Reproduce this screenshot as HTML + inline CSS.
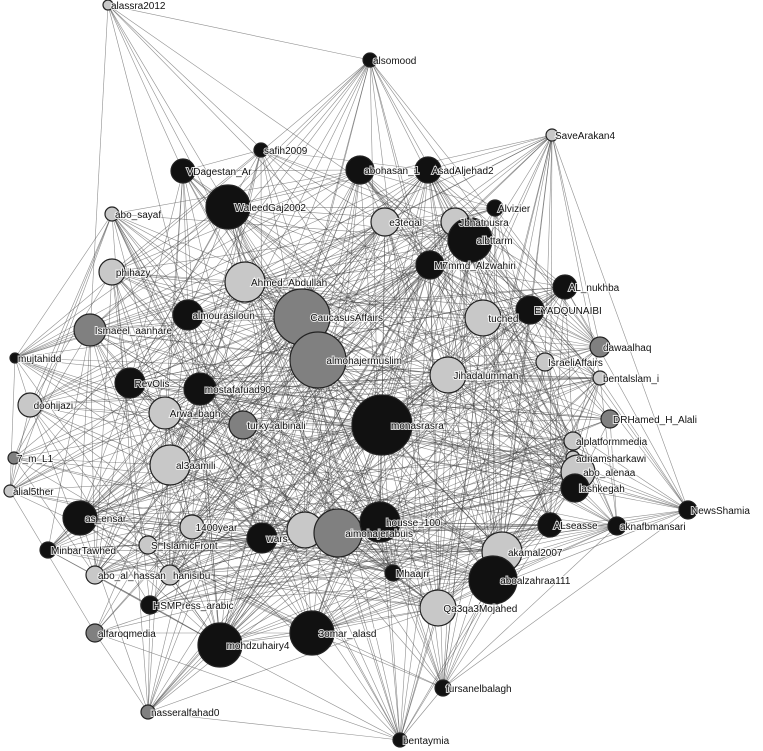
<!DOCTYPE html>
<html><head><meta charset="utf-8"><style>
html,body{margin:0;padding:0;background:#fff;}
svg{display:block;}
text{font-family:"Liberation Sans",sans-serif;font-size:10px;fill:#111;}
</style></head><body>
<svg id="s" width="763" height="751" viewBox="0 0 763 751" xmlns="http://www.w3.org/2000/svg">
<g id="edges" stroke="#444" stroke-width="0.6" stroke-opacity="0.6"></g>
<g id="nodes"></g>
</svg>
<script>
var N=[
["alassra2012",108,5,5,"l"],["alsomood",370,60,7,"d"],["safih2009",261,150,7,"d"],["SaveArakan4",552,135,6,"l"],
["VDagestan_Ar",183,171,12,"d"],["abohasan_1",360,170,14,"d"],["AsadAljehad2",428,170,13,"d"],["WaleedGaj2002",228,207,22,"d"],
["abo_sayaf",112,214,7,"l"],["Alvizier",495,208,8,"d"],["e3teqal",385,222,14,"l"],["Jbhatnusra",455,222,14,"l"],
["albttarm",470,240,22,"d"],["M7mmd_Alzwahiri",430,265,14,"d"],["phihazy",112,272,13,"l"],["Ahmed_Abdullah",245,282,20,"l"],
["AL_nukhba",565,287,12,"d"],["EYADQUNAIBI",530,310,14,"d"],["almourasiloun",188,315,15,"d"],["CaucasusAffairs",302,317,28,"m"],
["tuched",483,318,18,"l"],["Ismaeel_aanhare",90,330,16,"m"],["almohajermuslim",318,360,28,"m"],["dawaalhaq",600,347,10,"m"],
["mujtahidd",15,358,5,"d"],["IsraeliAffairs",545,362,9,"l"],["Jihadalummah",448,375,18,"l"],["bentalslam_i",600,378,7,"l"],
["RevOlis",130,383,15,"d"],["mostafafuad90",200,389,16,"d"],["doohijazi",30,405,12,"l"],["Arwa_bagh",165,413,16,"l"],
["turky_albinali",243,425,14,"m"],["monasrasra",382,425,30,"d"],["DRHamed_H_Alali",610,419,9,"m"],["alplatformmedia",573,441,9,"l"],
["adnamsharkawi",573,458,7,"l"],["7_m_L1",14,458,6,"m"],["al3aamili",170,465,20,"l"],["abo_alenaa",578,472,17,"l"],
["lashkegah",575,488,14,"d"],["alial5ther",10,491,6,"l"],["NewsShamia",688,510,9,"d"],["as_ensar",80,518,17,"d"],
["1400year",192,527,12,"l"],["wars",262,538,15,"d"],["",305,530,18,"l"],["aimohajerabuis",338,533,24,"m"],
["housse_100",380,522,20,"d"],["ALseasse",550,525,12,"d"],["aknafbmansari",617,526,9,"d"],["MinbarTawhed",48,550,8,"d"],
["S_IslamicFront",148,545,9,"l"],["akamal2007",502,552,20,"l"],["abo_al_hassan",95,575,9,"l"],["hanisibu",170,575,10,"l"],
["Mhaajrr",393,573,8,"d"],["aboalzahraa111",493,580,24,"d"],["HSMPress_arabic",150,605,9,"d"],["Qa3qa3Mojahed",438,608,18,"l"],
["alfaroqmedia",95,633,9,"m"],["mohdzuhairy4",220,645,22,"d"],["3omar_alasd",312,633,22,"d"],["fursanelbalagh",443,688,8,"d"],
["nasseralfahad0",148,712,7,"m"],["bentaymia",400,740,7,"d"]];
var col={d:"#111",m:"#808080",l:"#c8c8c8"};
var seed=7;function r(){seed=(seed*16807)%2147483647;return seed/2147483647;}
var E=document.getElementById("edges"),G=document.getElementById("nodes"),h="";
for(var i=0;i<N.length;i++)for(var j=i+1;j<N.length;j++){
 var a=N[i],b=N[j];var w=(a[3]+b[3])/60;var dx=a[1]-b[1],dy=a[2]-b[2];var d=Math.sqrt(dx*dx+dy*dy);
 var p=Math.min(0.9,w*1.1)*(d<250?1:0.6);
 if(r()<p)h+='<line x1="'+a[1]+'" y1="'+a[2]+'" x2="'+b[1]+'" y2="'+b[2]+'"/>';}
E.innerHTML=h;
var g="";
for(var i=0;i<N.length;i++){var n=N[i];
 g+='<circle cx="'+n[1]+'" cy="'+n[2]+'" r="'+n[3]+'" fill="'+col[n[4]]+'" stroke="#222" stroke-width="1.2"/>';}
for(var i=0;i<N.length;i++){var n=N[i];if(!n[0])continue;
 g+='<text x="'+(n[1]+Math.max(3,n[3]*0.3))+'" y="'+(n[2]+4)+'" stroke="#fff" stroke-width="2" stroke-opacity="0.8" paint-order="stroke">'+n[0]+'</text>';}
G.innerHTML=g;
</script>
</body></html>
